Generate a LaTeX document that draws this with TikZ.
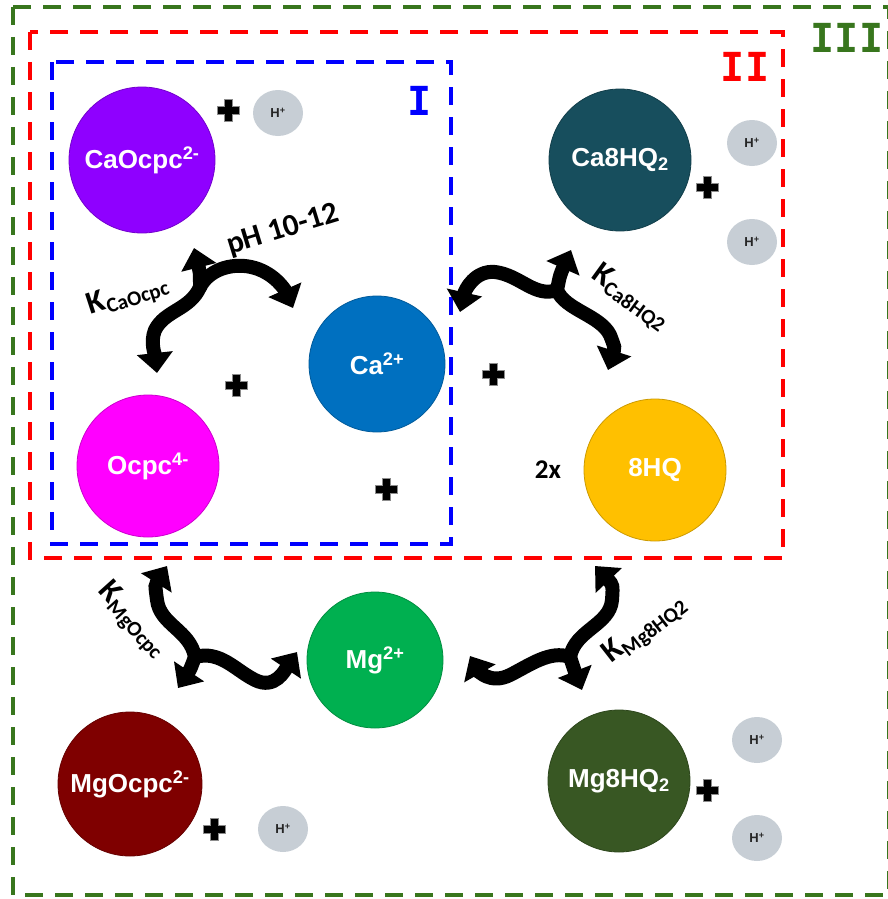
\documentclass[tikz,border=0pt]{standalone}
\usepackage{fontspec}
\setmainfont{Liberation Sans}
\newfontfamily\calib{Carlito}
\newfontfamily\monob{DejaVu Sans Mono}
\usetikzlibrary{arrows.meta,shapes.geometric}

\definecolor{cPurple}{HTML}{8F00FF}
\definecolor{cCa}{HTML}{0070C0}
\definecolor{cMagenta}{HTML}{FF00FF}
\definecolor{cTeal}{HTML}{174E5D}
\definecolor{cGold}{HTML}{FFC000}
\definecolor{cMg}{HTML}{00B050}
\definecolor{cMaroon}{HTML}{7F0000}
\definecolor{cOlive}{HTML}{385723}
\definecolor{cProton}{HTML}{C7CED5}
\definecolor{cGreenBox}{HTML}{38761D}
\definecolor{cRedBox}{HTML}{FF0000}
\definecolor{cBlueBox}{HTML}{0000FF}

\tikzset{
  ion/.style={circle, inner sep=0pt, draw=#1!80!black, line width=0.8pt, fill=#1,
    text=white, font=\fontsize{26}{28}\selectfont\bfseries},
  proton/.style={ellipse, inner sep=0pt, minimum width=50pt, minimum height=46pt,
    fill=cProton, font=\fontsize{13}{14}\selectfont\bfseries, text=black!85},
  zone/.style={line width=4.5pt, dash pattern=on 18pt off 12pt},
  zonelabel/.style={font=\monob\bfseries\fontsize{40}{40}\selectfont, inner sep=0pt},
  curly/.style={line width=14pt, line cap=round, -{Triangle[width=35pt,length=20pt]}},
  klabel/.style={font=\calib\bfseries, inner sep=0pt},
  plussign/.pic={
    \draw[black!45, line width=0.8pt, fill=black]
      (-11,-4) -- (-4,-4) -- (-4,-11) -- (4,-11) -- (4,-4) -- (11,-4) -- (11,4)
      -- (4,4) -- (4,11) -- (-4,11) -- (-4,4) -- (-11,4) -- cycle;
  }
}

\newcommand{\Klab}[1]{{\fontsize{32}{32}\selectfont K}{\fontsize{21}{21}\selectfont\raisebox{-5pt}{#1}}}

\begin{document}
\begin{tikzpicture}[x=1pt,y=1pt]
\useasboundingbox (0,0) rectangle (888,-899);

% nested reaction zones
\draw[zone, cGreenBox] (13,-7) rectangle (889,-895);
\draw[zone, cRedBox] (30,-32) rectangle (783,-558);
\draw[zone, cBlueBox] (52,-62) rectangle (451,-544);

\node[zonelabel, text=cBlueBox] (lblI) at (420,-101) {I};
\node[zonelabel, text=cRedBox] (lblII) at (745,-67) {II};
\node[zonelabel, text=cGreenBox] (lblIII) at (847,-38) {III};

% species
\node[ion=cPurple, minimum size=146pt] (caocpc) at (142,-160) {CaOcpc\textsuperscript{2-}};
\node[ion=cCa, minimum size=136pt] (ca) at (377,-364) {Ca\textsuperscript{2+}};
\node[ion=cMagenta, minimum size=142pt] (ocpc) at (148,-466) {Ocpc\textsuperscript{4-}};
\node[ion=cTeal, minimum size=142pt] (ca8hq) at (620,-160) {Ca8HQ\textsubscript{2}};
\node[ion=cGold, minimum size=142pt] (hq) at (655,-470) {8HQ};
\node[ion=cMg, minimum size=136pt] (mg) at (375,-660) {Mg\textsuperscript{2+}};
\node[ion=cMaroon, minimum size=144pt] (mgocpc) at (130,-784) {MgOcpc\textsuperscript{2-}};
\node[ion=cOlive, minimum size=142pt] (mg8hq) at (619,-781) {Mg8HQ\textsubscript{2}};

% released protons
\node[proton] (h1) at (278,-113) {H\textsuperscript{+}};
\node[proton] (h2) at (752,-143) {H\textsuperscript{+}};
\node[proton] (h3) at (752,-242) {H\textsuperscript{+}};
\node[proton] (h4) at (283,-829) {H\textsuperscript{+}};
\node[proton] (h5) at (757,-740) {H\textsuperscript{+}};
\node[proton] (h6) at (757,-838) {H\textsuperscript{+}};

% plus signs
\pic at (228,-110) {plussign};
\pic at (707,-187) {plussign};
\pic at (236,-385) {plussign};
\pic at (493,-374) {plussign};
\pic at (386,-489) {plussign};
\pic at (214,-829) {plussign};
\pic at (707,-790) {plussign};

\node[font=\calib\bfseries\fontsize{27}{27}\selectfont] (twox) at (548,-470) {2x};

% equilibrium junctions
\coordinate (j1) at (200,-287);
\coordinate (j2) at (557,-290);
\coordinate (j3) at (195,-657);
\coordinate (j4) at (570,-657);

% Ca + Ocpc <-> CaOcpc
\draw[curly] (j1) .. controls (200,-272) .. (194,-248);
\draw[curly] (j1) .. controls (210,-268) and (235,-262) .. (255,-268)
                  .. controls (275,-274) and (285,-290) .. (293,-308);
\draw[curly] (j1) .. controls (190,-310) and (165,-310) .. (155,-330)
                  .. controls (150,-342) and (155,-355) .. (157,-373);

% Ca + 8HQ <-> Ca8HQ2
\draw[curly] (j2) .. controls (560,-275) .. (571,-250);
\draw[curly] (j2) .. controls (535,-298) and (520,-275) .. (495,-272)
                  .. controls (475,-270) and (465,-290) .. (460,-312);
\draw[curly] (j2) .. controls (565,-310) and (600,-315) .. (610,-335)
                  .. controls (615,-348) .. (608,-370);

% Mg + Ocpc <-> MgOcpc
\draw[curly] (j3) .. controls (190,-630) and (160,-625) .. (157,-600)
                  .. controls (155,-585) .. (167,-566);
\draw[curly] (j3) .. controls (190,-670) .. (178,-688);
\draw[curly] (j3) .. controls (220,-650) and (235,-670) .. (255,-680)
                  .. controls (275,-690) and (285,-670) .. (297,-652);

% Mg + 8HQ <-> Mg8HQ2
\draw[curly] (j4) .. controls (575,-630) and (610,-625) .. (612,-600)
                  .. controls (613,-585) .. (595,-566);
\draw[curly] (j4) .. controls (575,-672) .. (582,-690);
\draw[curly] (j4) .. controls (550,-650) and (530,-665) .. (510,-675)
                  .. controls (490,-685) and (478,-670) .. (470,-656);

% equilibrium labels
\node[font=\calib\bfseries\fontsize{31}{31}\selectfont, rotate=17] (ph) at (283,-230) {pH 10-12};
\node[klabel, rotate=18] (kcaocpc) at (128,-296) {\Klab{CaOcpc}};
\node[klabel, rotate=-36] (kca8hq) at (630,-298) {\Klab{Ca8HQ2}};
\node[klabel, rotate=-48] (kmgocpc) at (132,-620) {\Klab{MgOcpc}};
\node[klabel, rotate=38] (kmg8hq) at (645,-630) {\Klab{Mg8HQ2}};
\end{tikzpicture}
\end{document}
